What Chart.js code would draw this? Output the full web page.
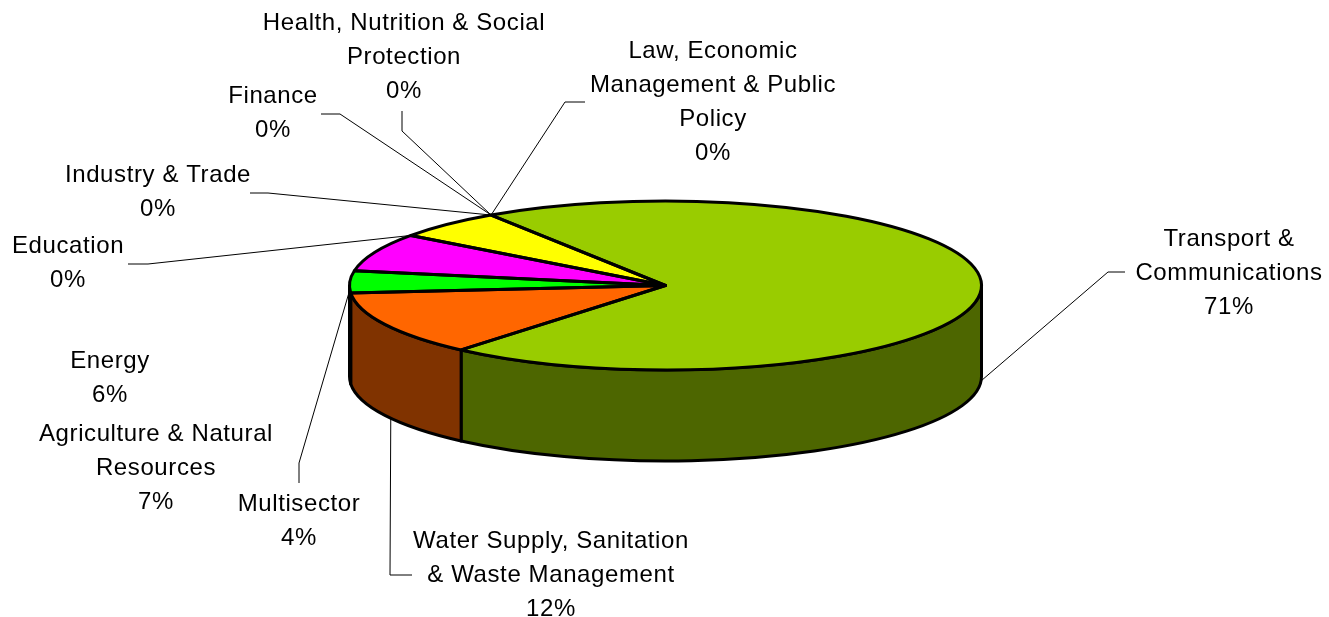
<!DOCTYPE html>
<html>
<head>
<meta charset="utf-8">
<title>Sector shares</title>
<script src="https://cdn.jsdelivr.net/npm/chart.js@4"></script>
<style>
    html, body { margin: 0; padding: 0; background: #fff; }
    canvas { display: block; }
</style>
</head>
<body>
<canvas id="sector-chart" width="1329" height="617"></canvas>
<script>
const sectors = [
    'Transport & Communications',
    'Water Supply, Sanitation & Waste Management',
    'Multisector',
    'Agriculture & Natural Resources',
    'Energy',
    'Education',
    'Industry & Trade',
    'Finance',
    'Health, Nutrition & Social Protection',
    'Law, Economic Management & Public Policy'
];
const shares = [70.5, 12.4, 4.2, 7.3, 5.6, 0, 0, 0, 0, 0];

const topColors = ['#99cc00', '#ff6600', '#00ff00', '#ff00ff', '#ffff00', '#000080', '#800000', '#008080', '#800080', '#808000'];
const sideColors = ['#4d6600', '#803300', '#008000', '#800080', '#808000', '#000040', '#400000', '#004040', '#400040', '#404000'];

// wrapped label lines, same order as sectors
const labelLines = [
    ['Transport &', 'Communications'],
    ['Water Supply, Sanitation', '& Waste Management'],
    ['Multisector'],
    ['Agriculture & Natural', 'Resources'],
    ['Energy'],
    ['Education'],
    ['Industry & Trade'],
    ['Finance'],
    ['Health, Nutrition & Social', 'Protection'],
    ['Law, Economic', 'Management & Public', 'Policy']
];
const labelCenterX = [1229, 551, 299, 156, 110, 68, 158, 273, 404, 713];
const labelTopY = [239.5, 541.5, 504.5, 434.5, 361.5, 246.5, 175.5, 96.5, 23.5, 51.5];

// leader lines: slice it points at, where on that slice, drop below the top face, elbow, end
const leaders = [
    { slice: 0, edge: 'right', drop: 95, elbow: [1108, 272], end: [1125, 272] },
    { slice: 1, edge: 0.45, drop: 91, elbow: [390, 575], end: [412, 575] },
    { slice: 2, edge: 0.5, drop: 8, elbow: [299, 463], end: [299, 483] },
    { slice: 3, edge: 'end', drop: 0, elbow: [148, 264], end: [128, 264] },
    { slice: 6, edge: 'start', drop: 0, elbow: [268, 193], end: [250, 193] },
    { slice: 7, edge: 'start', drop: 0, elbow: [340, 114], end: [321, 114] },
    { slice: 8, edge: 'start', drop: 0, elbow: [402, 131], end: [402, 111] },
    { slice: 9, edge: 'start', drop: 0, elbow: [565, 102], end: [585, 102] }
];

const squash = 0.2674;
const depth = 91;
const outline = 3;

const tiltedPie = {
    id: 'tiltedPie',
    beforeDatasetsDraw(chart) {
        const ctx = chart.ctx;
        const arcs = chart.getDatasetMeta(0).data;
        ctx.save();
        ctx.lineWidth = outline;
        ctx.lineJoin = 'round';
        ctx.strokeStyle = '#000';
        // only the front half of the rim shows
        arcs.forEach(function (arc, i) {
            if (arc.endAngle - arc.startAngle <= 0) return;
            [0, 2 * Math.PI].forEach(function (turn) {
                const a = Math.max(arc.startAngle, turn);
                const b = Math.min(arc.endAngle, turn + Math.PI);
                if (b <= a) return;
                const ry = arc.outerRadius * squash;
                ctx.beginPath();
                ctx.ellipse(arc.x, arc.y, arc.outerRadius, ry, 0, a, b);
                ctx.ellipse(arc.x, arc.y + depth, arc.outerRadius, ry, 0, b, a, true);
                ctx.closePath();
                ctx.fillStyle = sideColors[i];
                ctx.fill();
                ctx.stroke();
            });
        });
        ctx.restore();

        const first = arcs[0];
        ctx.save();
        ctx.translate(first.x, first.y);
        ctx.scale(1, squash);
        ctx.translate(-first.x, -first.y);
    },
    afterDatasetsDraw(chart) {
        const ctx = chart.ctx;
        ctx.restore();

        const arcs = chart.getDatasetMeta(0).data;
        ctx.save();
        ctx.lineWidth = outline;
        ctx.lineJoin = 'round';
        ctx.strokeStyle = '#000';
        arcs.forEach(function (arc) {
            if (arc.endAngle - arc.startAngle <= 0) return;
            const ry = arc.outerRadius * squash;
            ctx.beginPath();
            ctx.moveTo(arc.x, arc.y);
            ctx.ellipse(arc.x, arc.y, arc.outerRadius, ry, 0, arc.startAngle, arc.endAngle);
            ctx.closePath();
            ctx.stroke();
        });
        ctx.restore();

        drawLeaders(chart, arcs);
        drawLabels(chart);
    }
};

function rimPoint(arc, angle, drop) {
    return [
        arc.x + arc.outerRadius * Math.cos(angle),
        arc.y + arc.outerRadius * squash * Math.sin(angle) + drop
    ];
}

function drawLeaders(chart, arcs) {
    const ctx = chart.ctx;
    ctx.save();
    ctx.strokeStyle = '#000';
    ctx.lineWidth = 1;
    leaders.forEach(function (l) {
        const arc = arcs[l.slice];
        let angle = arc.startAngle;
        if (l.edge === 'end') angle = arc.endAngle;
        if (typeof l.edge === 'number') angle = arc.startAngle + l.edge * (arc.endAngle - arc.startAngle);
        if (l.edge === 'right') angle = 0;
        const from = rimPoint(arc, angle, l.drop);
        ctx.beginPath();
        ctx.moveTo(from[0], from[1]);
        ctx.lineTo(l.elbow[0], l.elbow[1]);
        ctx.lineTo(l.end[0], l.end[1]);
        ctx.stroke();
    });
    ctx.restore();
}

function drawLabels(chart) {
    const ctx = chart.ctx;
    ctx.save();
    ctx.font = '24px "Liberation Sans"';
    ctx.letterSpacing = '0.6px';
    ctx.fillStyle = '#000';
    ctx.textAlign = 'center';
    ctx.textBaseline = 'middle';
    labelLines.forEach(function (lines, i) {
        const all = lines.concat(Math.round(shares[i]) + '%');
        all.forEach(function (line, n) {
            ctx.fillText(line, labelCenterX[i], labelTopY[i] + n * 34);
        });
    });
    ctx.restore();
}

document.addEventListener('DOMContentLoaded', function () {
    const canvas = document.getElementById('sector-chart');
    new Chart(canvas, {
        type: 'pie',
        data: {
            labels: sectors,
            datasets: [{
                data: shares,
                backgroundColor: topColors,
                borderWidth: 0,
                clip: false
            }]
        },
        options: {
            responsive: false,
            animation: false,
            radius: 316,
            rotation: -33.5,
            layout: { padding: { left: 2, bottom: 46 } },
            plugins: {
                legend: { display: false },
                tooltip: { enabled: false }
            }
        },
        plugins: [tiltedPie]
    });
});
</script>
</body>
</html>
